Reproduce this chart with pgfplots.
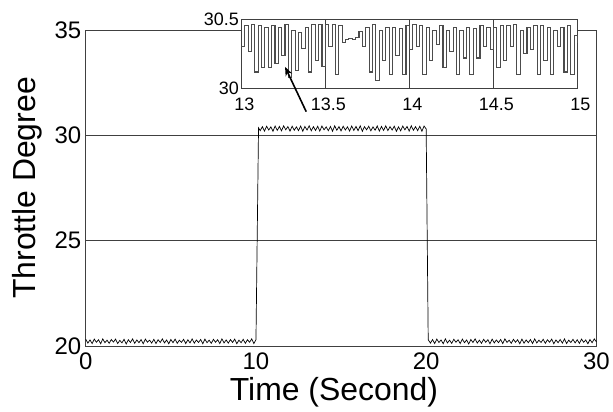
\documentclass[border=0pt]{standalone}
\usepackage{fontspec}
\setmainfont{Liberation Sans}
\usepackage{pgfplots}
\pgfplotsset{compat=1.18}
\usetikzlibrary{arrows.meta}

\begin{document}
\begin{tikzpicture}
% main step response
\begin{axis}[
  name=main,
  at={(0,0)}, anchor=south west,
  width=512bp, height=317bp, scale only axis,
  xmin=0, xmax=30, ymin=20, ymax=35,
  xtick={0,10,20,30}, ytick={20,25,30,35},
  ymajorgrids,
  grid style={black!75, line width=0.6bp},
  axis line style={black!75, line width=0.8bp},
  major tick length=0pt,
  /pgf/number format/assume math mode=true,
  tick label style={font=\fontsize{24bp}{24bp}\selectfont},
  xticklabel style={yshift=-3bp},
  yticklabel style={xshift=-1bp},
  label style={font=\fontsize{32bp}{32bp}\selectfont},
  xlabel={Time (Second)},
  ylabel={Throttle Degree},
  xlabel style={at={(axis description cs:0.486,-0.145)}, anchor=center},
  ylabel style={at={(axis description cs:-0.115,0.5)}, anchor=center},
  clip=false
]
\addplot[black, line width=0.7bp] coordinates {
(0,20.32)(0.125,20.14)(0.25,20.29)(0.375,20.12)(0.5,20.33)(0.625,20.18)(0.75,20.30)(0.875,20.11)
(1,20.34)(1.125,20.16)(1.25,20.28)(1.375,20.13)(1.5,20.31)(1.625,20.19)(1.75,20.33)(1.875,20.12)
(2,20.27)(2.125,20.15)(2.25,20.32)(2.375,20.10)(2.5,20.30)(2.625,20.17)(2.75,20.34)(2.875,20.13)
(3,20.29)(3.125,20.16)(3.25,20.31)(3.375,20.11)(3.5,20.33)(3.625,20.18)(3.75,20.28)(3.875,20.14)
(4,20.32)(4.125,20.12)(4.25,20.30)(4.375,20.17)(4.5,20.34)(4.625,20.15)(4.75,20.29)(4.875,20.11)
(5,20.31)(5.125,20.16)(5.25,20.33)(5.375,20.13)(5.5,20.28)(5.625,20.18)(5.75,20.32)(5.875,20.12)
(6,20.30)(6.125,20.15)(6.25,20.34)(6.375,20.14)(6.5,20.29)(6.625,20.17)(6.75,20.31)(6.875,20.11)
(7,20.33)(7.125,20.16)(7.25,20.28)(7.375,20.13)(7.5,20.32)(7.625,20.18)(7.75,20.30)(7.875,20.12)
(8,20.34)(8.125,20.15)(8.25,20.29)(8.375,20.14)(8.5,20.31)(8.625,20.17)(8.75,20.33)(8.875,20.11)
(9,20.28)(9.125,20.16)(9.25,20.32)(9.375,20.13)(9.5,20.30)(9.625,20.18)(9.75,20.34)(9.875,20.12)
(10,20.30)(10.15,30.35)
(10.25,30.22)(10.375,30.41)(10.5,30.20)(10.625,30.43)(10.75,30.25)(10.875,30.40)
(11,30.19)(11.125,30.44)(11.25,30.23)(11.375,30.42)(11.5,30.21)(11.625,30.45)(11.75,30.26)(11.875,30.41)
(12,30.20)(12.125,30.43)(12.25,30.24)(12.375,30.40)(12.5,30.22)(12.625,30.44)(12.75,30.19)(12.875,30.42)
(13,30.25)(13.125,30.45)(13.25,30.21)(13.375,30.41)(13.5,30.23)(13.625,30.43)(13.75,30.20)(13.875,30.44)
(14,30.26)(14.125,30.40)(14.25,30.22)(14.375,30.42)(14.5,30.19)(14.625,30.45)(14.75,30.24)(14.875,30.41)
(15,30.21)(15.125,30.43)(15.25,30.25)(15.375,30.40)(15.5,30.20)(15.625,30.44)(15.75,30.23)(15.875,30.42)
(16,30.22)(16.125,30.45)(16.25,30.19)(16.375,30.41)(16.5,30.26)(16.625,30.43)(16.75,30.21)(16.875,30.40)
(17,30.24)(17.125,30.44)(17.25,30.20)(17.375,30.42)(17.5,30.23)(17.625,30.45)(17.75,30.22)(17.875,30.41)
(18,30.25)(18.125,30.43)(18.25,30.19)(18.375,30.40)(18.5,30.21)(18.625,30.44)(18.75,30.26)(18.875,30.42)
(19,30.20)(19.125,30.45)(19.25,30.24)(19.375,30.41)(19.5,30.22)(19.625,30.43)(19.75,30.19)(19.875,30.44)
(20,30.30)(20.12,20.30)
(20.25,20.14)(20.375,20.31)(20.5,20.12)(20.625,20.33)(20.75,20.17)(20.875,20.29)
(21,20.11)(21.125,20.34)(21.25,20.15)(21.375,20.28)(21.5,20.13)(21.625,20.32)(21.75,20.18)(21.875,20.30)
(22,20.12)(22.125,20.33)(22.25,20.16)(22.375,20.29)(22.5,20.10)(22.625,20.31)(22.75,20.17)(22.875,20.34)
(23,20.14)(23.125,20.28)(23.25,20.13)(23.375,20.32)(23.5,20.18)(23.625,20.30)(23.75,20.11)(23.875,20.33)
(24,20.15)(24.125,20.29)(24.25,20.16)(24.375,20.31)(24.5,20.12)(24.625,20.34)(24.75,20.17)(24.875,20.28)
(25,20.13)(25.125,20.32)(25.25,20.18)(25.375,20.30)(25.5,20.11)(25.625,20.33)(25.75,20.14)(25.875,20.29)
(26,20.16)(26.125,20.31)(26.25,20.12)(26.375,20.34)(26.5,20.15)(26.625,20.28)(26.75,20.17)(26.875,20.32)
(27,20.13)(27.125,20.30)(27.25,20.18)(27.375,20.33)(27.5,20.11)(27.625,20.29)(27.75,20.16)(27.875,20.31)
(28,20.14)(28.125,20.34)(28.25,20.12)(28.375,20.28)(28.5,20.17)(28.625,20.32)(28.75,20.15)(28.875,20.30)
(29,20.13)(29.125,20.33)(29.25,20.18)(29.375,20.29)(29.5,20.11)(29.625,20.31)(29.75,20.16)(29.875,20.34)
(30,20.20)
};
\end{axis}

% zoomed inset, 13 s to 15 s
\begin{axis}[
  at={(156bp,258bp)}, anchor=south west,
  width=337bp, height=70bp, scale only axis,
  xmin=13, xmax=15, ymin=30, ymax=30.5,
  xtick={13,13.5,14,14.5,15}, ytick={30,30.5},
  xmajorgrids,
  grid style={black!75, line width=0.6bp},
  axis line style={black!75, line width=0.8bp},
  axis background/.style={fill=white},
  major tick length=0pt,
  /pgf/number format/assume math mode=true,
  tick label style={font=\fontsize{18bp}{18bp}\selectfont},
  xticklabel style={yshift=-6bp, xshift=3bp},
  yticklabel style={xshift=1bp},
  clip=false
]
\addplot[const plot, draw=black!70, line width=1.1bp] coordinates {
(13.00,30.30)(13.02,30.45)(13.04,30.27)(13.06,30.46)(13.08,30.12)(13.10,30.45)(13.12,30.15)(13.14,30.44)
(13.16,30.15)(13.18,30.45)(13.20,30.18)(13.22,30.44)(13.24,30.24)(13.26,30.46)(13.28,30.08)(13.30,30.42)
(13.32,30.13)(13.34,30.40)(13.36,30.29)(13.38,30.44)(13.40,30.12)(13.42,30.46)(13.44,30.20)(13.46,30.46)
(13.48,30.16)(13.50,30.46)(13.52,30.30)(13.54,30.46)(13.56,30.10)(13.58,30.45)(13.60,30.33)(13.62,30.35)
(13.64,30.36)(13.66,30.35)(13.68,30.37)(13.70,30.41)(13.72,30.30)(13.74,30.44)(13.76,30.12)(13.78,30.46)
(13.80,30.06)(13.82,30.42)(13.84,30.20)(13.86,30.44)(13.88,30.10)(13.90,30.44)(13.92,30.24)(13.94,30.43)
(13.96,30.10)(13.98,30.45)(14.00,30.28)(14.02,30.46)(14.04,30.30)(14.06,30.45)(14.08,30.10)(14.10,30.44)
(14.12,30.20)(14.14,30.42)(14.16,30.32)(14.18,30.45)(14.20,30.15)(14.22,30.42)(14.24,30.27)(14.26,30.44)
(14.28,30.10)(14.30,30.42)(14.32,30.22)(14.34,30.44)(14.36,30.10)(14.38,30.43)(14.40,30.22)(14.42,30.45)
(14.44,30.30)(14.46,30.44)(14.48,30.28)(14.50,30.44)(14.52,30.15)(14.54,30.45)(14.56,30.20)(14.58,30.45)
(14.60,30.30)(14.62,30.46)(14.64,30.10)(14.66,30.42)(14.68,30.25)(14.70,30.44)(14.72,30.28)(14.74,30.45)
(14.76,30.10)(14.78,30.45)(14.80,30.20)(14.82,30.44)(14.84,30.10)(14.86,30.42)(14.88,30.30)(14.90,30.44)
(14.92,30.12)(14.94,30.45)(14.96,30.10)(14.98,30.38)(15.00,30.33)
};
\draw[-{Stealth[length=9bp,width=7bp]}, line width=1.6bp]
  (axis cs:13.386,29.836) -- (axis cs:13.26,30.157);
\end{axis}
% fix the page to the reference's margins round the main box
\path (-86bp,-66bp) rectangle (527bp,347bp);
\end{tikzpicture}
\end{document}
